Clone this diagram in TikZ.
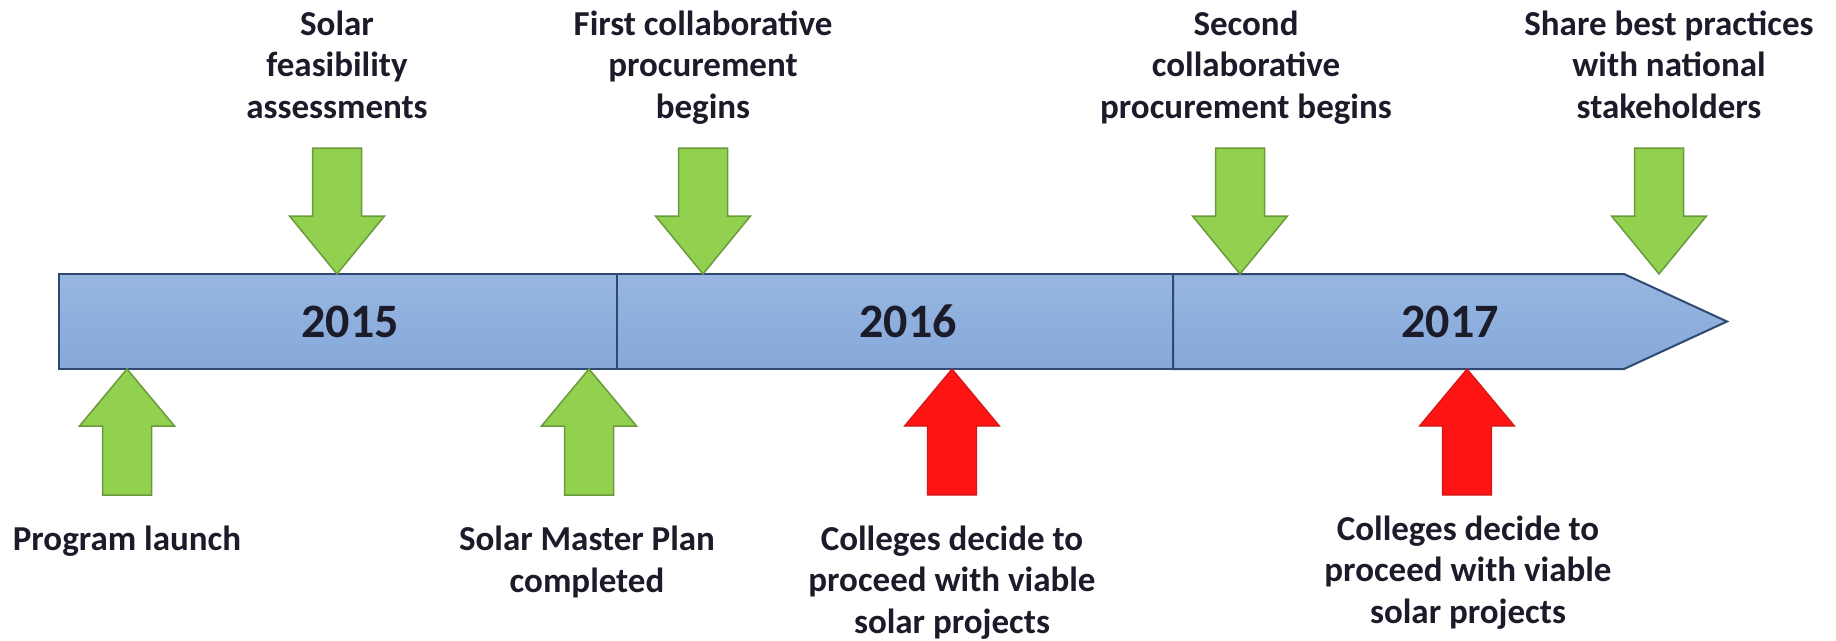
\documentclass[tikz,border=0pt]{standalone}
\usepackage{fontspec}
\setmainfont{Carlito}
\definecolor{txt}{HTML}{1B1B2A}
\definecolor{bartop}{HTML}{97B6E0}
\definecolor{barbot}{HTML}{86A9DB}
\definecolor{barline}{HTML}{2F4A70}
\definecolor{grn}{HTML}{92D050}
\definecolor{grnline}{HTML}{6B9A3C}
\definecolor{rd}{HTML}{FF1414}
\definecolor{rdline}{HTML}{D01818}
\tikzset{
  pics/downarr/.style={code={
    \path[#1] (-24.5,148) -- (24.5,148) -- (24.5,216) -- (47.5,216) -- (0,274)
      -- (-47.5,216) -- (-24.5,216) -- cycle;}},
  pics/uparr/.style={code={
    \path[#1] (-24.5,495) -- (24.5,495) -- (24.5,426) -- (47.5,426) -- (0,369)
      -- (-47.5,426) -- (-24.5,426) -- cycle;}}
}
\begin{document}
\begin{tikzpicture}[x=1pt,y=-1pt,
  lbl/.style={font=\bfseries\fontsize{35}{41.5}\selectfont, text=txt, align=center, anchor=base, inner sep=0pt},
  yr/.style={font=\bfseries\fontsize{48}{56}\selectfont, text=txt, inner sep=0pt},
  barseg/.style={draw=barline, line width=2pt, top color=bartop, bottom color=barbot, line join=miter},
  garrow/.style={fill=grn, draw=grnline, line width=1.5pt, line join=miter},
  rarrow/.style={fill=rd, draw=rdline, line width=1.2pt, line join=miter}]
\useasboundingbox (0,0) rectangle (1836,640);
% timeline bar
\path[barseg] (59,274) rectangle (617,369);
\path[barseg] (617,274) rectangle (1173,369);
\path[barseg] (1173,274) -- (1624,274) -- (1727,321.5) -- (1624,369) -- (1173,369) -- cycle;
\node[yr] (y2015) at (350,321.5) {2015};
\node[yr] (y2016) at (908,321.5) {2016};
\node[yr] (y2017) at (1450,321.5) {2017};
% top arrows
\pic at (337,0) {downarr=garrow};
\pic at (703,0) {downarr=garrow};
\pic at (1240,0) {downarr=garrow};
\pic at (1659,0) {downarr=garrow};
% bottom arrows
\pic at (127,0) {uparr=garrow};
\pic at (589,0) {uparr=garrow};
\pic at (952,0) {uparr=rarrow};
\pic at (1467,0) {uparr=rarrow};
% top labels (anchor = baseline of the last line)
\node[lbl] (t1) at (337,118) {Solar\\feasibility\\assessments};
\node[lbl] (t2) at (703,118) {First collaborative\\procurement\\begins};
\node[lbl] (t3) at (1246,118) {Second\\collaborative\\procurement begins};
\node[lbl] (t4) at (1669,118) {Share best practices\\with national\\stakeholders};
% bottom labels
\node[lbl] (b1) at (127,550) {Program launch};
\node[lbl] (b2) at (587,592) {Solar Master Plan\\completed};
\node[lbl] (b3) at (952,633) {Colleges decide to\\proceed with viable\\solar projects};
\node[lbl] (b4) at (1468,623) {Colleges decide to\\proceed with viable\\solar projects};
\end{tikzpicture}
\end{document}
